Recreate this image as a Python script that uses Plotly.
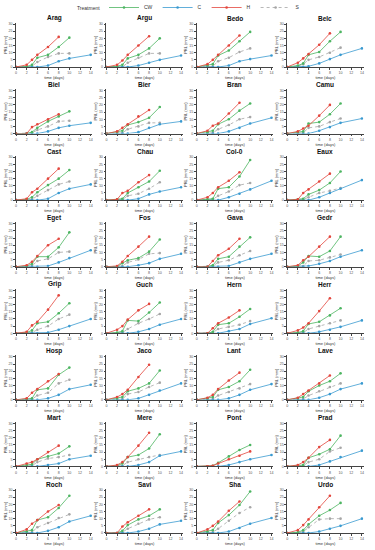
import plotly.graph_objects as go

GENOTYPES = ["Arag", "Argu", "Bedo", "Belc", "Biel", "Bier", "Bran", "Camu",
             "Cast", "Chau", "Col-0", "Eaux", "Eget", "Fos", "Gava", "Gedr",
             "Grip", "Guch", "Hern", "Herr", "Hosp", "Jaco", "Lant", "Lave",
             "Mart", "Mere", "Pont", "Prad", "Roch", "Savi", "Sha", "Urdo"]
TIMES = [0, 2, 3, 4, 6, 8, 10, 14]
X_TICKS = [0, 2, 4, 6, 8, 10, 12, 14]
Y_TICKS = [0, 5, 10, 15, 20, 25, 30]

# PRL (mm) per genotype, one list per treatment (values follow TIMES)
CW = [
    [0, 0.3, 1.5, 6.5, 8.5, 14, 20.5], [0, 0.5, 1.5, 6, 8.5, 13, 20],
    [0, 1, 2, 8, 11.5, 18, 24.5], [0, 1, 2.5, 8.5, 10.5, 18, 24.5],
    [0, 0, 1, 4, 8.5, 12, 15.5], [0, 1, 2, 6, 8, 11, 18.5],
    [0, 1, 2, 6.5, 10, 16, 21], [0, 1, 1.5, 7, 8, 13.5, 21],
    [0, 0.5, 2, 5.5, 10.5, 15, 21], [0, 0.5, 1, 5, 9, 13, 20.5],
    [0, 0.5, 1, 8, 9, 16.5, 28], [0, 0.5, 1, 4, 7, 12, 20],
    [0, 0.5, 2, 7, 7, 13.5, 24], [0, 0, 2.5, 4.5, 6, 10.5, 19],
    [0, 0, 1, 5.5, 7, 14, 20.5], [0, 0.5, 3, 7.5, 7, 11, 21],
    [0, 0.5, 2, 7, 8, 14, 21], [0, 0.5, 1.5, 9, 8.5, 14.5, 21.5],
    [0, 0, 1, 6, 7, 11.5, 17], [0, 0.5, 1.5, 6.5, 8, 12.5, 17.5],
    [0, 0.5, 1, 7, 8, 17.5, 22.5], [0, 1, 2, 6, 8, 11.5, 20.5],
    [0, 1, 2, 7, 9, 13, 21], [0, 1, 2, 6, 10, 13, 18.5],
    [0, 1, 1.5, 5, 7, 9, 14], [0, 0.5, 2, 6.5, 8, 12.5, 22.5],
    [0, 0, 0.5, 2.5, 7, 11.5, 15], [0, 0.5, 1, 6, 8.5, 12, 21.5],
    [0, 1, 2, 9, 11, 17.5, 26], [0, 0, 1.5, 5.5, 9.5, 12, 16.5],
    [0, 1, 2, 7, 12.5, 19.5, 29], [0, 0.5, 2, 6, 12, 16, 21],
]
C = [
    [0, 0, 0, 0, 1, 4, 6, 8.5], [0, 0, 0, 0, 1, 3, 5, 8],
    [0, 0, 0, 0, 1, 4, 5.5, 8], [0, 0, 0, 0.5, 2.5, 5.5, 8.5, 13],
    [0, 0, 0, 0, 1.5, 4, 5.5, 7.5], [0, 0, 0, 0, 1, 4, 6.5, 8.5],
    [0, 0, 0, 0, 1.5, 4, 7, 11], [0, 0, 0, 0, 2, 4.5, 7.5, 10.5],
    [0, 0, 0, 0, 1, 5, 8, 11], [0, 0, 0, 0, 1, 4, 6, 9],
    [0, 0, 0, 0, 2, 4.5, 7.5, 13.5], [0, 0, 0, 0, 2, 5, 8, 14],
    [0, 0, 0, 0, 0.5, 3, 6, 11.5], [0, 0, 0, 0, 1, 2.5, 5.5, 9],
    [0, 0, 0, 0, 0.5, 3, 5.5, 9], [0, 0, 0, 0.5, 2, 4, 7, 11.5],
    [0, 0, 0, 0, 0.5, 2.5, 5, 10], [0, 0, 0, 0, 1, 3, 6, 10],
    [0, 0, 0, 0, 1.5, 3, 6.5, 10.5], [0, 0, 0, 0, 1, 2.5, 4.5, 9],
    [0, 0, 0, 0, 1, 3.5, 7.5, 10.5], [0, 0, 0, 0, 1, 3.5, 6.5, 11.5],
    [0, 0, 0, 0, 1, 3.5, 7, 11], [0, 0, 0, 0, 1.5, 4, 7.5, 11.5],
    [0, 0, 0, 0, 1, 2, 5, 7.5], [0, 0, 0, 0, 1, 3, 7.5, 10.5],
    [0, 0, 0, 0, 1, 3, 5, 8], [0, 0, 0, 0, 1, 3.5, 6.5, 11],
    [0, 0, 0, 0, 1.5, 4, 8, 12], [0, 0, 0, 0, 1, 3, 6, 8.5],
    [0, 0, 0, 0, 1, 3.5, 6.5, 10.5], [0, 0, 0, 0, 1, 3, 5, 10],
]
H = [
    [0, 1.5, 5, 8.5, 14, 21], [0, 1.5, 4.5, 8.5, 15, 21.5],
    [0, 2, 5, 8.5, 15, 22], [0, 3, 6, 9, 15.5, 23.5],
    [0, 0, 4.5, 6.5, 10, 13.5], [0, 1.5, 4, 6.5, 12, 16.5],
    [0, 2, 5.5, 7, 14, 21.5], [0, 1.5, 3.5, 5.5, 12.5, 20],
    [0, 1, 5.5, 8, 15, 22], [0, 0.5, 5, 6.5, 12.5, 17.5],
    [0, 2, 5, 9, 13.5, 19.5], [0, 0.5, 5, 7.5, 13, 18.5],
    [0, 1, 3.5, 7.5, 15, 19.5], [0, 0.5, 3.5, 7.5, 14, 21],
    [0, 0, 4, 8, 12.5, 19.5], [0, 1, 4.5, 7, 14, 21],
    [0, 1, 5.5, 8, 16.5, 26.5], [0, 2.5, 5, 9.5, 16, 20.5],
    [0, 0, 3.5, 7, 11, 16], [0, 2, 4, 7, 15.5, 24.5],
    [0, 1, 5, 7.5, 13, 18], [0, 2, 4, 7, 16, 24.5],
    [0, 1.5, 3.5, 7.5, 13.5, 19], [0, 1.5, 4, 6.5, 11.5, 17],
    [0, 2, 3, 5, 10, 14.5], [0, 1, 3, 6.5, 14.5, 23.5],
    [0, 0, 0.5, 2, 5, 7.5, 10.5], [0, 1, 3, 6, 13.5, 18.5],
    [0, 2.5, 6.5, 9, 15, 19.5], [0, 0, 4.5, 7.5, 12, 16.5],
    [0, 2.5, 5, 8, 15.5, 22], [0, 2, 5.5, 9.5, 18, 26],
]
S = [
    [0, 0, 0.5, 3.5, 7, 9.5, 9.5], [0, 0, 0, 3, 6.5, 9.5, 9.5],
    [0, 0, 0.5, 4, 6.5, 10.5, 13], [0, 0.5, 2, 5, 7, 10, 13.5],
    [0, 0, 0.5, 2.5, 5, 8.5, 9], [0, 0, 0.5, 3, 5, 7.5, 7.5],
    [0, 0, 0.5, 3, 6, 10, 11.5], [0, 0, 0.5, 4, 5, 8, 10.5],
    [0, 0, 0.5, 3, 7, 11, 13], [0, 0, 0.5, 3, 4.5, 8, 12.5],
    [0, 0, 0.5, 3, 6, 10.5, 12], [0, 0, 0.5, 2, 5, 6.5, 8.5],
    [0, 0, 0.5, 4, 5.5, 10, 10.5], [0, 0, 0.5, 3, 5, 9, 9.5],
    [0, 0, 0.5, 3, 4.5, 8, 11], [0, 0, 0.5, 4, 4.5, 6.5, 8.5],
    [0, 0, 0.5, 2.5, 5, 10, 13], [0, 0, 0.5, 3, 7, 10, 13.5],
    [0, 0, 0.5, 3, 4.5, 6, 8.5], [0, 0, 0.5, 3, 5, 7, 9],
    [0, 0, 0.5, 3, 5, 11.5, 14], [0, 0, 0.5, 4, 5.5, 9, 12],
    [0, 0, 0.5, 3, 5.5, 8, 11], [0, 0, 0.5, 3, 6, 9, 11.5],
    [0, 0, 0.5, 3, 5.5, 6.5, 8], [0, 0, 0.5, 3, 5, 6.5, 8],
    None, [0, 0, 0.5, 3, 5, 10.5, 13],
    [0, 0, 0.5, 4, 7, 10.5, 13], [0, 0, 0.5, 3, 6.5, 9.5, 11],
    [0, 0, 0.5, 3, 8.5, 14, 18], [0, 0, 1, 4, 9.5, 10, 10],
]

SERIES = [("S", S, "#a6a6a6", "dot"), ("C", C, "#3a9ad0", "solid"),
          ("CW", CW, "#4cb561", "solid"), ("H", H, "#e3463d", "solid")]
LEGEND_RANK = {"CW": 1, "C": 2, "H": 3, "S": 4}

W, HGT = 375, 550
COL_LEFT, COL_STEP, PLOT_W = 16, 90.4, 76.3
ROW_Y0, ROW_STEP, PLOT_H = 67, 66.57, 44.4
X_RANGE, Y_RANGE = [0, 14.3], [0, 31]
FONT = "Liberation Sans, Arial, sans-serif"
LEGEND_Y_PX, LEGEND_X_PX = 7.5, 104
LEGEND_LIFT_PX = 7  # plotly keeps legend rows >= ~14.5px from the top; lift to match

fig = go.Figure()
annotations = []
layout_axes = {}
for i, name in enumerate(GENOTYPES):
    r, c = divmod(i, 4)
    k = "" if i == 0 else str(i + 1)
    x0 = COL_LEFT + c * COL_STEP
    ybot = ROW_Y0 + r * ROW_STEP
    ytop = ybot - PLOT_H
    xd = [x0 / W, (x0 + PLOT_W) / W]
    yd = [1 - ybot / HGT, 1 - ytop / HGT]
    common = dict(showline=True, linecolor="#444", linewidth=0.6, ticks="outside",
                  ticklen=2, tickwidth=0.6, tickcolor="#444", showgrid=False,
                  zeroline=False, automargin=False,
                  tickfont=dict(size=3.6, color="#555", family=FONT))
    layout_axes["xaxis" + k] = dict(common, domain=xd, range=X_RANGE, tickvals=X_TICKS,
                                    anchor="y" + k,
                                    title=dict(text="time (days)", standoff=0,
                                               font=dict(size=4, color="#333", family=FONT)))
    layout_axes["yaxis" + k] = dict(common, domain=yd, range=Y_RANGE, tickvals=Y_TICKS,
                                    anchor="x" + k,
                                    title=dict(text="PRL (mm)", standoff=1,
                                               font=dict(size=4, color="#333", family=FONT)))
    annotations.append(dict(text="<b>%s</b>" % name, x=(xd[0] + xd[1]) / 2,
                            y=1 - (ytop - 4.5) / HGT, xref="paper", yref="paper",
                            xanchor="center", yanchor="middle",
                            showarrow=False, font=dict(size=6.5, color="#111", family=FONT)))
    for tname, data, color, dash in SERIES:
        vals = data[i]
        if vals is None:
            continue
        fig.add_trace(go.Scatter(
            x=TIMES[:len(vals)], y=vals, mode="lines+markers", name=tname,
            showlegend=(i == 0), legendrank=LEGEND_RANK[tname],
            line=dict(color=color, width=0.8, dash=dash),
            marker=dict(color=color, size=2.6),
            xaxis="x" + k, yaxis="y" + k))

# legend title as text left of the legend entries
annotations.append(dict(text="Treatment", x=(LEGEND_X_PX - 2) / W, y=1 - LEGEND_Y_PX / HGT,
                        xref="paper", yref="paper", xanchor="right", yanchor="middle",
                        showarrow=False, font=dict(size=5, color="#333", family=FONT)))

fig.update_layout(
    width=W, height=HGT, margin=dict(l=0, r=0, t=0, b=0),
    paper_bgcolor="white", plot_bgcolor="white",
    font=dict(family=FONT),
    annotations=annotations,
    legend=dict(orientation="h", x=LEGEND_X_PX / W, xanchor="left",
                y=1, yanchor="top",
                font=dict(size=5, color="#333"), itemwidth=30, entrywidth=0,
                bgcolor="rgba(0,0,0,0)"),
    **layout_axes,
)

post = (
    "document.body.style.margin='0px';"
    "document.body.style.overflow='hidden';"
    "var lg=document.querySelector('g.legend');"
    "if(lg){var t=lg.getAttribute('transform')||'';"
    "var m=t.match(/translate\\(\\s*([-\\d.eE]+)[ ,]+([-\\d.eE]+)\\s*\\)/);"
    "if(m){lg.setAttribute('transform','translate('+m[1]+','+(parseFloat(m[2])-%d)+')');}}"
    % LEGEND_LIFT_PX
)
fig.write_html("out.html", config={"displayModeBar": False}, post_script=post)
